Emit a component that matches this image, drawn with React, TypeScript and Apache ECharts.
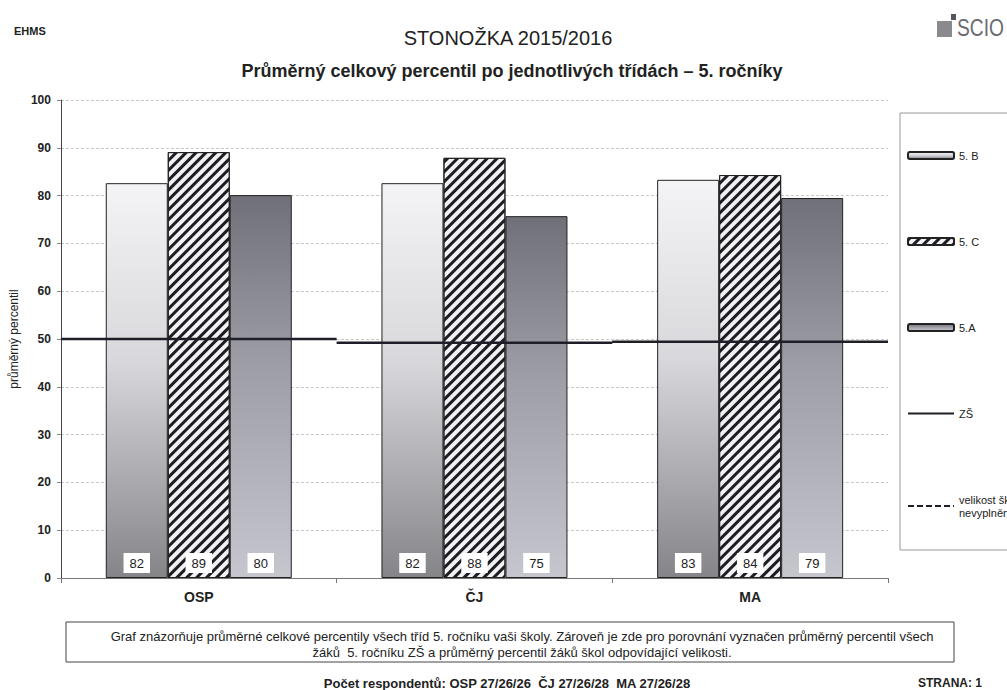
import React, { useEffect, useRef } from "react";
import * as echarts from "echarts";

const categories = ["OSP", "ČJ", "MA"];
const seriesNames = ["5. B", "5. C", "5.A"];
const valuesB = [82.6, 82.6, 83.3];
const valuesC = [89.1, 87.9, 84.3];
const valuesA = [80.1, 75.7, 79.5];
const labelsB = [82, 82, 83];
const labelsC = [89, 88, 84];
const labelsA = [80, 75, 79];
const zsValues = [50.0, 49.2, 49.4];
const yTicks = [0, 10, 20, 30, 40, 50, 60, 70, 80, 90, 100];

const FONT = "'Liberation Sans', Arial, sans-serif";

export default function App() {
  const ref = useRef<HTMLDivElement>(null);
  useEffect(() => {
    if (!ref.current) return;
    const chart = echarts.init(ref.current, null, { renderer: "svg" });

    const labelSets = [labelsB, labelsC, labelsA];
    const label = (si: number) => ({
      show: true,
      position: "insideBottom",
      distance: 5,
      formatter: (p: any) => String(labelSets[si][p.dataIndex]),
      backgroundColor: "#ffffff",
      padding: [4, 6, 3, 6],
      fontSize: 13,
      fontFamily: FONT,
      color: "#222",
    });

    const gradB = new echarts.graphic.LinearGradient(0, 0, 0, 1, [
      { offset: 0, color: "#f4f4f6" },
      { offset: 0.45, color: "#d8d8dc" },
      { offset: 1, color: "#858589" },
    ]);
    const gradA = new echarts.graphic.LinearGradient(0, 0, 0, 1, [
      { offset: 0, color: "#707078" },
      { offset: 0.45, color: "#9e9ea6" },
      { offset: 1, color: "#c6c6ce" },
    ]);

    const zsData: any[] = [];
    zsValues.forEach((v, i) => {
      if (i > 0) zsData.push([i, "-"]);
      zsData.push([i, v]);
      zsData.push([i + 1, v]);
    });

    const option: any = {
      animation: false,
      backgroundColor: "#ffffff",
      textStyle: { fontFamily: FONT },
      title: [
        {
          text: "STONOŽKA 2015/2016",
          left: 503,
          textAlign: "center",
          top: 23,
          textStyle: { fontSize: 20, fontWeight: "normal", color: "#222", fontFamily: FONT },
        },
        {
          text: "Průměrný celkový percentil po jednotlivých třídách – 5. ročníky",
          left: 507,
          textAlign: "center",
          top: 57,
          textStyle: { fontSize: 18, fontWeight: "bold", color: "#222", fontFamily: FONT },
        },
      ],
      grid: { left: 60, right: 119, top: 100, bottom: 112, containLabel: false },
      legend: {
        orient: "vertical",
        left: 902,
        top: 144,
        itemGap: 73,
        itemWidth: 46,
        itemHeight: 7,
        textStyle: { fontSize: 11, color: "#222", fontFamily: FONT, lineHeight: 13 },
        formatter: (n: string) => (n === "velikost školy nevyplněna" ? "velikost školy\nnevyplněna" : n),
        data: [
          seriesNames[0],
          seriesNames[1],
          seriesNames[2],
          { name: "ZŠ", itemStyle: { opacity: 0 } },
          { name: "velikost školy nevyplněna", itemStyle: { opacity: 0 } },
        ],
      },
      xAxis: [
        {
          type: "category",
          data: categories,
          axisLine: { lineStyle: { color: "#777", width: 1 } },
          axisTick: { show: true, length: 5, lineStyle: { color: "#777" } },
          axisLabel: { fontSize: 14, fontWeight: "bold", color: "#222", margin: 12, fontFamily: FONT },
        },
        { type: "value", min: 0, max: 3, show: false },
      ],
      yAxis: {
        type: "value",
        min: yTicks[0],
        max: yTicks[yTicks.length - 1],
        interval: 10,
        name: "průměrný percentil",
        nameLocation: "middle",
        nameGap: 37,
        nameTextStyle: { fontSize: 12, color: "#222", fontFamily: FONT },
        axisLine: { show: true, lineStyle: { color: "#444", width: 1 } },
        axisTick: { show: true, length: 4, lineStyle: { color: "#888" } },
        axisLabel: { fontSize: 12, fontWeight: "bold", color: "#222", margin: 10, fontFamily: FONT },
        splitLine: { show: true, lineStyle: { color: "#c8c8c8", type: [3, 2], width: 1 } },
      },
      series: [
        {
          name: seriesNames[0],
          type: "bar",
          data: valuesB,
          barWidth: 62,
          barGap: "0%",
          itemStyle: { color: gradB, borderColor: "#222", borderWidth: 1 },
          label: label(0),
          z: 2,
        },
        {
          name: seriesNames[1],
          type: "bar",
          data: valuesC,
          barWidth: 62,
          barGap: "0%",
          itemStyle: {
            color: "#f2f2f4",
            borderColor: "#222",
            borderWidth: 1,
            decal: {
              symbol: "rect",
              symbolSize: 1,
              color: "#1c1c22",
              dashArrayX: [1, 0],
              dashArrayY: [3, 4],
              rotation: -Math.PI / 4,
            },
          },
          label: label(1),
          z: 2,
        },
        {
          name: seriesNames[2],
          type: "bar",
          data: valuesA,
          barWidth: 62,
          barGap: "0%",
          itemStyle: { color: gradA, borderColor: "#222", borderWidth: 1 },
          label: label(2),
          z: 2,
        },
        {
          name: "ZŠ",
          type: "line",
          xAxisIndex: 1,
          data: zsData,
          symbol: "none",
          connectNulls: false,
          lineStyle: { color: "#1e1e28", width: 2.5 },
          itemStyle: { color: "#1e1e28" },
          z: 5,
        },
        {
          name: "velikost školy nevyplněna",
          type: "line",
          xAxisIndex: 1,
          data: [],
          symbol: "none",
          lineStyle: { color: "#1e1e28", width: 2.5, type: [6, 3] },
          itemStyle: { color: "#1e1e28" },
        },
      ],
      graphic: [
        {
          type: "rect",
          shape: { x: 900, y: 113, width: 130, height: 437 },
          style: { fill: "none", stroke: "#999", lineWidth: 1 },
          z: -1,
        },
        {
          type: "text",
          x: 14,
          y: 25,
          style: { text: "EHMS", font: `bold 11px ${FONT}`, fill: "#222" },
        },
        {
          type: "rect",
          shape: { x: 937, y: 21, width: 15, height: 16 },
          style: { fill: "#8a8a8e" },
        },
        {
          type: "rect",
          shape: { x: 951, y: 14, width: 5, height: 6 },
          style: { fill: "#55555a" },
        },
        {
          type: "text",
          x: 957,
          y: 16,
          scaleX: 0.8,
          style: { text: "SCIO", font: `24px ${FONT}`, fill: "#6a6a70" },
        },
        {
          type: "rect",
          shape: { x: 66, y: 622, width: 888, height: 40 },
          style: { fill: "#fff", stroke: "#444", lineWidth: 1 },
        },
        {
          type: "text",
          x: 522,
          y: 644,
          style: {
            text:
              "Graf znázorňuje průměrné celkové percentily všech tříd 5. ročníku vaši školy. Zároveň je zde pro porovnání vyznačen průměrný percentil všech\nžáků  5. ročníku ZŠ a průměrný percentil žáků škol odpovídající velikosti.",
            font: `13px ${FONT}`,
            fill: "#222",
            align: "center",
            verticalAlign: "middle",
            lineHeight: 16,
          },
        },
        {
          type: "text",
          x: 507,
          y: 683,
          style: {
            text: "Počet respondentů: OSP 27/26/26  ČJ 27/26/28  MA 27/26/28",
            font: `bold 13px ${FONT}`,
            fill: "#222",
            align: "center",
            verticalAlign: "middle",
          },
        },
        {
          type: "text",
          x: 918,
          y: 683,
          style: {
            text: "STRANA: 1",
            font: `bold 12px ${FONT}`,
            fill: "#222",
            verticalAlign: "middle",
          },
        },
      ],
    };
    chart.setOption(option);
    return () => chart.dispose();
  }, []);
  return (
    <div
      ref={ref}
      style={{ position: "absolute", left: 0, top: 0, width: 1007, height: 690, background: "#fff" }}
    />
  );
}
